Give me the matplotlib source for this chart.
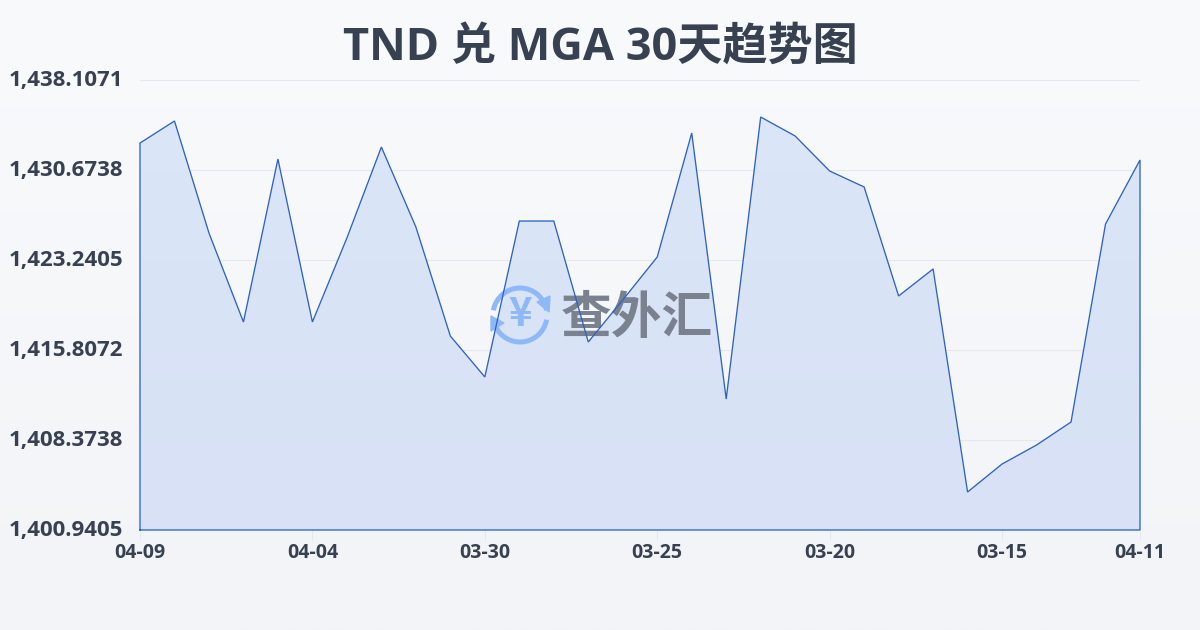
import numpy as np
import matplotlib
matplotlib.use("Agg")
import matplotlib.pyplot as plt
from matplotlib.patches import Arc, Polygon
from matplotlib.transforms import Affine2D, ScaledTranslation

values = [1432.90, 1434.72, 1425.47, 1418.12, 1431.58, 1418.12, 1425.06, 1432.57, 1425.97, 1416.96,
          1413.58, 1426.46, 1426.46, 1416.47, 1419.94, 1423.49, 1433.73, 1411.76, 1435.05, 1433.48,
          1430.59, 1429.27, 1420.27, 1422.50, 1404.08, 1406.39, 1407.96, 1409.86, 1426.21, 1431.50]
x_ticks = [0, 5, 10, 15, 20, 25, 29]
x_labels = ["04-09", "04-04", "03-30", "03-25", "03-20", "03-15", "04-11"]
y_ticks = [1400.9405, 1408.3738, 1415.8072, 1423.2405, 1430.6738, 1438.1071]
y_labels = ["1,400.9405", "1,408.3738", "1,415.8072", "1,423.2405", "1,430.6738", "1,438.1071"]

plt.rcParams["font.family"] = ["Open Sans", "Noto Sans CJK SC", "DejaVu Sans"]

fig = plt.figure(figsize=(12, 6.3), dpi=100)

# page background
bg = fig.add_axes([0, 0, 1, 1], zorder=0)
bg.imshow(np.linspace(0, 1, 256).reshape(-1, 1), aspect="auto", extent=[0, 1, 0, 1],
          cmap=matplotlib.colors.LinearSegmentedColormap.from_list("bg", ["#f9fafc", "#f2f4f7"]))
bg.axis("off")

ax = fig.add_axes([140 / 1200, 100 / 630, 1000 / 1200, 450 / 630], zorder=1)
ax.patch.set_alpha(0)
xs = np.arange(len(values))

for s in ax.spines.values():
    s.set_visible(False)
ax.set_yticks(y_ticks)
ax.set_yticklabels(y_labels, fontsize=16, fontweight="bold", color="#374151")
ax.set_xticks(x_ticks)
ax.set_xticklabels(x_labels, fontsize=14, fontweight="bold", color="#374151")
ax.tick_params(axis="y", length=0, pad=12)
ax.tick_params(axis="x", length=7, width=0.7, color="#e5e7eb", pad=2)
# y labels sit a little above their grid lines
for lab in ax.get_yticklabels():
    lab.set_transform(lab.get_transform() + ScaledTranslation(0, 1.5 / 72, fig.dpi_scale_trans))
ax.grid(axis="y", color="#e5e8ee", linewidth=0.8)
ax.set_axisbelow(True)

# area under the line, slight vertical gradient
area = ax.fill_between(xs, values, y_ticks[0], color="none", zorder=1)
grad = ax.imshow(np.linspace(0, 1, 256).reshape(-1, 1), aspect="auto", zorder=1,
                 extent=[0, 29, y_ticks[0], y_ticks[-1]],
                 cmap=matplotlib.colors.LinearSegmentedColormap.from_list("fill", ["#dbe6f8", "#d8e1f5"]))
grad.set_clip_path(area.get_paths()[0], transform=ax.transData)
ax.set_xlim(0, 29)
ax.set_ylim(y_ticks[0], y_ticks[-1])

# watermark, in pixel coordinates
px = Affine2D().scale(1, -1).translate(0, 630)
blue = "#8fb8f8"
ax.add_patch(Arc((520, 315), 54, 54, theta1=10, theta2=165, color=blue, lw=3.6, transform=px, zorder=2, clip_on=False))
ax.add_patch(Arc((520, 315), 54, 54, theta1=190, theta2=350, color=blue, lw=3.6, transform=px, zorder=2, clip_on=False))
ax.add_patch(Polygon([(537, 302), (550, 296), (549, 312)], color=blue, transform=px, zorder=2, clip_on=False))
ax.add_patch(Polygon([(491, 316), (504, 323), (491, 331)], color=blue, transform=px, zorder=2, clip_on=False))
ax.text(520, 314, "¥", fontsize=29, fontweight="bold", color=blue, ha="center", va="center",
        transform=px, zorder=2, clip_on=False, family=["Noto Sans CJK SC", "DejaVu Sans"])
ax.text(636.5, 318, "查外汇", fontsize=36.5, fontweight="bold", color="#7a818f", ha="center", va="center",
        transform=px, zorder=2, clip_on=False, family=["Noto Sans CJK SC", "DejaVu Sans"])

# outline closes along the baseline
ax.plot(np.r_[xs[0], xs, xs[-1], xs[0]], np.r_[y_ticks[0], values, y_ticks[0], y_ticks[0]],
        color="#2f62c8", lw=0.95, zorder=3, clip_on=False, solid_joinstyle="miter")

fig.text(600 / 1200, 1 - 48 / 630, "TND 兑 MGA 30天趋势图", fontsize=32.5, fontweight="bold",
         color="#374151", ha="center", va="center")

fig.savefig("out.png", dpi=100)
